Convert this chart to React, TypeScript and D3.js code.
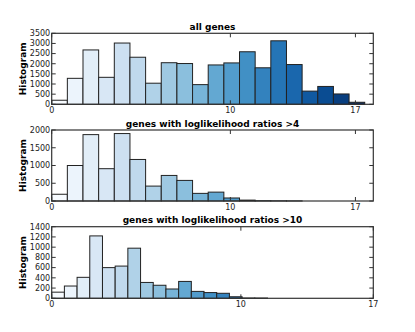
import React from "react";
import * as d3 from "d3";

const allGenes = [200, 1280, 2680, 1330, 3020, 2320, 1040, 2050, 2010, 970, 1940, 2040, 2590, 1800, 3130, 1960, 650, 880, 510, 100];
const llr4 = [190, 1000, 1870, 910, 1900, 1170, 420, 720, 580, 215, 250, 85, 25, 8, 5, 3];
const llr10 = [120, 240, 410, 1220, 600, 630, 980, 310, 255, 182, 330, 135, 112, 98, 30, 6, 5];

const titles = ["all genes", "genes with loglikelihood ratios >4", "genes with loglikelihood ratios >10"];
const xTicks = [0, 10, 17];
const yTicks1 = [0, 500, 1000, 1500, 2000, 2500, 3000, 3500];
const yTicks2 = [0, 500, 1000, 1500, 2000];
const yTicks3 = [0, 200, 400, 600, 800, 1000, 1200, 1400];

const binWidthA = 0.876;
const binWidthB = 0.671;

const W = 415, H = 332;
const left = 51.7, right = 373.3;

type PanelSpec = {
  values: number[];
  title: string;
  yTicks: number[];
  xMax: number;
  binW: number;
  top: number;
  bottom: number;
};

const panels: PanelSpec[] = [
  { values: allGenes, title: titles[0], yTicks: yTicks1, xMax: 18, binW: binWidthA, top: 33.3, bottom: 104.3 },
  { values: llr4, title: titles[1], yTicks: yTicks2, xMax: 18, binW: binWidthA, top: 130, bottom: 201 },
  { values: llr10, title: titles[2], yTicks: yTicks3, xMax: 17, binW: binWidthB, top: 226.7, bottom: 298.3 },
];

const color = (i: number) => d3.interpolateBlues(i / 19);
const font = "'DejaVu Sans', sans-serif";

function Panel({ p }: { p: PanelSpec }) {
  const x = d3.scaleLinear().domain([0, p.xMax]).range([left, right]);
  const yMax = p.yTicks[p.yTicks.length - 1];
  const y = d3.scaleLinear().domain([0, yMax]).range([p.bottom, p.top]);
  const tl = 4;
  return (
    <g>
      {p.values.map((v, i) => (
        <rect
          key={i}
          x={x(i * p.binW)}
          y={y(v)}
          width={x((i + 1) * p.binW) - x(i * p.binW)}
          height={p.bottom - y(v)}
          fill={color(i)}
          stroke="#222"
          strokeWidth={1}
        />
      ))}
      <rect x={left} y={p.top} width={right - left} height={p.bottom - p.top} fill="none" stroke="#333" strokeWidth={1.2} />
      {p.yTicks.map((t) => (
        <g key={"y" + t}>
          <line x1={left} x2={left + tl} y1={y(t)} y2={y(t)} stroke="#333" />
          <line x1={right} x2={right - tl} y1={y(t)} y2={y(t)} stroke="#333" />
          <text x={left - 1.5} y={y(t)} dy="0.35em" textAnchor="end" fontSize={8} fontFamily={font} fill="#222">
            {t}
          </text>
        </g>
      ))}
      {xTicks.map((t) => (
        <g key={"x" + t}>
          <line x1={x(t)} x2={x(t)} y1={p.bottom} y2={p.bottom - tl} stroke="#333" />
          <line x1={x(t)} x2={x(t)} y1={p.top} y2={p.top + tl} stroke="#333" />
          <text x={x(t)} y={p.bottom + 8.5} textAnchor="middle" fontSize={8} fontFamily={font} fill="#222">
            {t}
          </text>
        </g>
      ))}
      <text x={(left + right) / 2} y={p.top - 3.5} textAnchor="middle" fontSize={9} fontWeight="bold" fontFamily={font} fill="#000">
        {p.title}
      </text>
      <text
        transform={`translate(26,${(p.top + p.bottom) / 2}) rotate(-90)`}
        textAnchor="middle"
        fontSize={9}
        fontWeight="bold"
        fontFamily={font}
        fill="#000"
      >
        Histogram
      </text>
    </g>
  );
}

export default function App() {
  return (
    <svg width={W} height={H} style={{ position: "absolute", left: 0, top: 0, background: "#fff" }}>
      <rect width={W} height={H} fill="#fff" />
      {panels.map((p, i) => (
        <Panel key={i} p={p} />
      ))}
    </svg>
  );
}
